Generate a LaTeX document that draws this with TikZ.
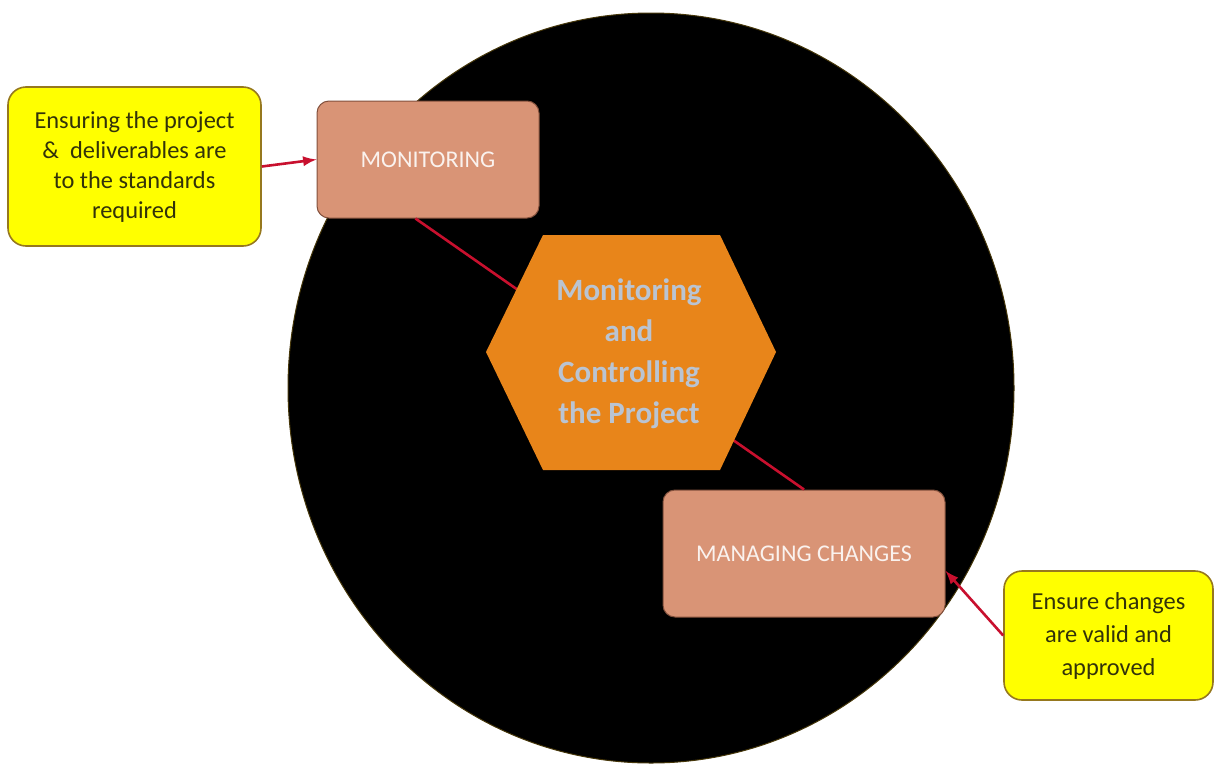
\documentclass[tikz,border=0pt]{standalone}
\usepackage{fontspec}
\setmainfont{Carlito}
\usepackage{tikz}

\definecolor{notefill}{RGB}{255,255,0}
\definecolor{notedraw}{RGB}{150,120,30}
\definecolor{notetext}{RGB}{50,50,10}
\definecolor{taskfill}{RGB}{217,148,118}
\definecolor{taskdraw}{RGB}{130,80,60}
\definecolor{tasktext}{RGB}{250,242,238}
\definecolor{hexfill}{RGB}{232,133,26}
\definecolor{hextext}{RGB}{186,196,210}
\definecolor{linkred}{RGB}{200,16,46}

\tikzset{
  note/.style={draw=notedraw, line width=0.8pt, fill=notefill, rounded corners=9pt,
    align=center, text=notetext, inner sep=0pt, font=\fontsize{12.2}{15}\selectfont},
  task/.style={draw=taskdraw, line width=0.5pt, fill=taskfill, rounded corners=6pt,
    text=tasktext, inner sep=0pt, font=\fontsize{12}{14}\selectfont},
  hexlabel/.style={align=center, text=hextext, inner sep=0pt,
    font=\fontsize{15.5}{20.5}\selectfont\bfseries},
  link/.style={draw=linkred, line width=1.3pt},
}

\begin{document}
\begin{tikzpicture}[x=0.5pt,y=-0.5pt]
\useasboundingbox (0,0) rectangle (1214,766);

\filldraw[black, draw={rgb,255:red,70;green,55;blue,10}, line width=0.5pt] (651,388) ellipse [x radius=363, y radius=375];

\node[task, minimum width=111pt, minimum height=58.5pt] (mon) at (428,159.5) {MONITORING};
\node[task, minimum width=141pt, minimum height=63.5pt] (mng) at (804,553.5) {MANAGING CHANGES};

\draw[link] (mon.-102) -- (mng.north);

\fill[hexfill] (486,352) -- (543,235) -- (720,235) -- (776,352) -- (720,470) -- (543,470) -- cycle;
\node[hexlabel] (hex) at (629,354) {Monitoring\\ and\\ Controlling\\ the Project};

\node[note, minimum width=126.5pt, minimum height=79.5pt] (note1) at (134.5,166.5) {Ensuring the project\\ \&\ \ deliverables are\\ to the standards\\ required};
\node[note, minimum width=104.5pt, minimum height=64.5pt, font=\fontsize{12.2}{16.5}\selectfont] (note2) at (1108.5,635.5) {Ensure changes\\ are valid and\\ approved};

\draw[link, -latex] (note1.east) -- (mon.west);
\draw[link, -latex] (note2.west) -- (mng.-7);
\end{tikzpicture}
\end{document}
